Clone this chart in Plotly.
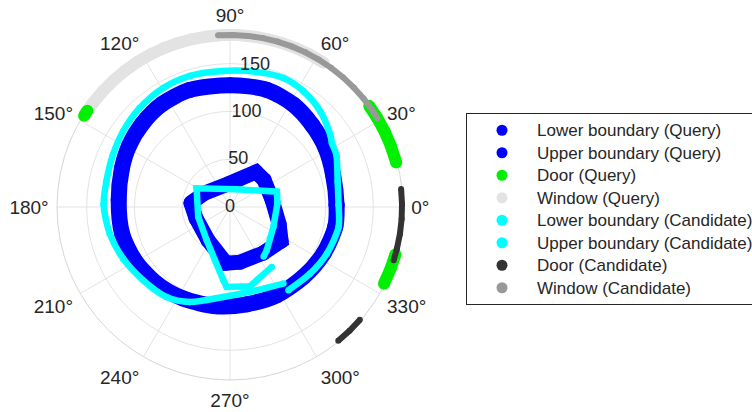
import plotly.graph_objects as go

# ---------------- data ----------------
# Query: lower boundary (inner rounded square), closed loop
q_lower_theta = [174.1, 150.8, 95.0, 53.4, 38.5, 9.5, 340.9, 326.3, 305.7, 280.3, 265.9, 236.3, 198.0, 174.1]
q_lower_r = [41.1, 30.1, 24.2, 45.7, 45.6, 44.7, 54.4, 64.3, 59.4, 58.7, 58.9, 41.6, 37.5, 41.1]

# Query: upper boundary (outer ring), closed loop
q_upper_theta = [1.1, 17.3, 31.7, 45.1, 58.2, 72.6, 90.0, 109.0, 123.6, 136.5, 149.0, 160.6, 176.4,
                 193.7, 209.2, 226.2, 242.9, 262.3, 279.8, 298.0, 316.5, 333.6, 349.4, 361.1]
q_upper_r = [111.5, 113.0, 117.5, 121.5, 126.0, 128.5, 127.5, 129.5, 129.0, 126.5, 123.5, 120.0, 116.7,
             116.3, 114.2, 111.0, 107.6, 104.8, 103.3, 104.5, 106.1, 109.3, 112.1, 111.5]

# Candidate: lower boundary (open path)
c_lower_theta = [304.1, 310.5, 335.5, 4.5, 18.1, 69.3, 150.7, 197.0, 234.8, 254.2, 264.8, 267.6, 284.2, 290.1, 304.9]
c_lower_r = [62.7, 59.3, 49.9, 49.8, 51.6, 19.9, 40.1, 34.8, 42.4, 57.8, 76.9, 83.7, 85.5, 81.6, 76.4]

# Candidate: upper boundary (open ring)
c_upper_theta = [305.1, 320.4, 334.4, 349.7, 361.1, 373.3, 386.1, 392.1, 395.8, 406.6, 417.6, 427.5, 439.0,
                 452.8, 466.9, 479.3, 492.4, 504.8, 516.0, 528.4, 539.1, 552.4, 565.7, 580.1, 594.8,
                 607.1, 625.7, 645.6, 664.9]
c_upper_r = [106.4, 109.0, 112.5, 115.5, 113.6, 115.7, 123.9, 125.9, 129.3, 137.6, 143.4, 146.0, 144.0,
             142.5, 143.5, 142.9, 140.2, 137.0, 134.1, 132.1, 132.2, 128.9, 124.2, 118.9, 115.2,
             107.9, 94.4, 91.2, 97.7]

# Doors / windows along the rim (None separates segments)
rim_r = 180
door_q_theta = [146.0, 148.0, None, 36.0, 31.0, 26.0, 21.0, 15.0, None, 333.5, 339.0, 344.0]
window_q_theta = [147.0, 142.5, 137.5, 132.5, 127.5, 122.5, 117.5, 112.5, 107.5, 102.5, 97.5, 92.5,
                  87.5, 82.5, 77.5, 72.5, 67.5, 62.5, 57.0]
door_c_theta = [6.0, 1.0, 356.0, 351.0, 346.0, 342.0, None, 309.0, 314.0, 319.0]
window_c_theta = [94.0, 89.0, 84.0, 79.0, 74.0, 69.0, 64.0, 59.0, 54.0, 49.0, 44.0, 39.0, 34.0, 31.0]

angular_ticks = [0, 30, 60, 90, 120, 150, 180, 210, 240, 270, 300, 330]
radial_ticks = [0, 50, 100, 150]
r_max = 181

names = ["Lower boundary (Query)", "Upper boundary (Query)", "Door (Query)", "Window (Query)",
         "Lower boundary (Candidate)", "Upper boundary (Candidate)", "Door (Candidate)", "Window (Candidate)"]
colors = ["#0000ff", "#0000ff", "#00f000", "#e3e3e3", "#00ffff", "#00ffff", "#333333", "#999999"]

FONT = "Liberation Sans, Arial, sans-serif"
W, H = 752, 412
CX, CY, RAD = 230, 207, 173          # polar centre / radius in px
RAD2 = 184                            # larger overlay so rim strokes are not clipped
fig = go.Figure()


def rim(theta):
    return [None if t is None else rim_r for t in theta]


def path(r, theta, color, w, subplot="polar", shape="linear"):
    fig.add_trace(go.Scatterpolar(
        r=r, theta=theta, mode="lines+markers", subplot=subplot,
        line=dict(color=color, width=w, shape=shape, smoothing=0.8),
        marker=dict(color=color, size=w),
        showlegend=False, hoverinfo="skip", cliponaxis=False))


path(q_lower_r, q_lower_theta, colors[0], 15)
path(q_upper_r, q_upper_theta, colors[1], 16, shape="spline")
path(c_lower_r, c_lower_theta, colors[4], 6.5)
path(c_upper_r, c_upper_theta, colors[5], 6.5, shape="spline")
path(rim(window_q_theta), window_q_theta, colors[3], 12, "polar2")
path(rim(door_q_theta), door_q_theta, colors[2], 12, "polar2")
path(rim(door_c_theta), door_c_theta, colors[6], 6, "polar2")
path(rim(window_c_theta), window_c_theta, colors[7], 6, "polar2")

# radial tick labels along 80 degrees
fig.add_trace(go.Scatterpolar(
    r=radial_ticks, theta=[80] * len(radial_ticks), mode="text",
    text=[str(v) for v in radial_ticks],
    textfont=dict(family=FONT, size=18, color="#262626"),
    showlegend=False, hoverinfo="skip", cliponaxis=False))

# legend entries
for n, c in zip(names, colors):
    fig.add_trace(go.Scatterpolar(r=[None], theta=[None], mode="markers",
                                  name=f"<span style='font-size:17px'>{n}</span>",
                                  marker=dict(color=c, size=11)))


def dom(rad):
    return dict(x=[(CX - rad) / W, (CX + rad) / W], y=[1 - (CY + rad) / H, 1 - (CY - rad) / H])


fig.update_layout(
    width=W, height=H,
    margin=dict(l=0, r=0, t=0, b=0, autoexpand=False),
    paper_bgcolor="white",
    font=dict(family=FONT, color="#262626"),
    polar=dict(
        domain=dom(RAD),
        bgcolor="white",
        angularaxis=dict(
            tickmode="array", tickvals=angular_ticks,
            ticktext=[f"{a}°" for a in angular_ticks],
            direction="counterclockwise", rotation=0,
            showline=True, linecolor="#d6d6d6", linewidth=1,
            gridcolor="#e3e3e3", gridwidth=1,
            ticks="outside", ticklen=4, tickcolor="rgba(0,0,0,0)",
            tickfont=dict(family=FONT, size=19, color="#262626"),
        ),
        radialaxis=dict(
            range=[0, r_max], tickmode="array", tickvals=radial_ticks,
            showticklabels=False, ticks="", showline=False,
            gridcolor="#e3e3e3", gridwidth=1, angle=80,
        ),
    ),
    polar2=dict(
        domain=dom(RAD2),
        bgcolor="rgba(0,0,0,0)",
        angularaxis=dict(visible=False, direction="counterclockwise", rotation=0),
        radialaxis=dict(visible=False, range=[0, r_max * RAD2 / RAD]),
    ),
    legend=dict(
        x=466 / W, y=1 - 113 / H, xanchor="left", yanchor="top",
        bordercolor="#262626", borderwidth=1, bgcolor="white",
        font=dict(family=FONT, size=15, color="#262626"),
        itemwidth=60, tracegroupgap=0,
    ),
)

fig.write_html("out.html", config={"displayModeBar": False},
               post_script="document.body.style.margin='0';")
